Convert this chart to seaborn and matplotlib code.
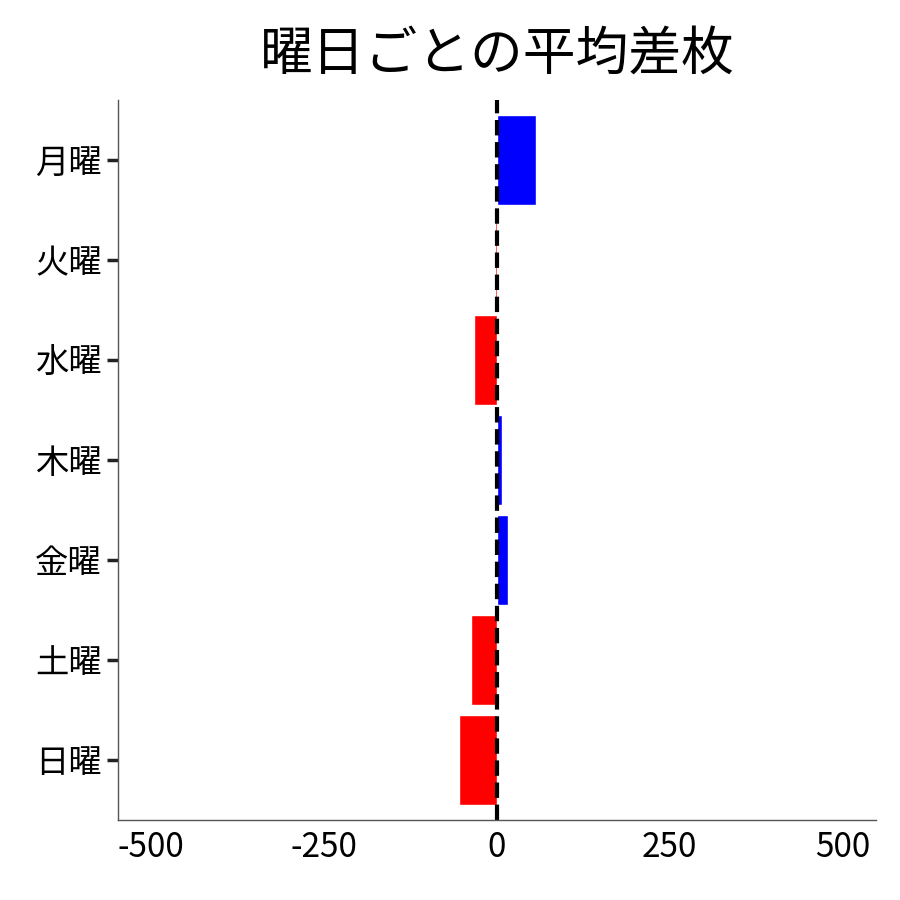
import matplotlib
matplotlib.use('Agg')
import matplotlib.pyplot as plt
import seaborn as sns
import pandas as pd

days = ['月曜', '火曜', '水曜', '木曜', '金曜', '土曜', '日曜']
diffs = [56, -3, -33, 7, 16, -38, -54]
colors = ['blue' if v > 0 else 'red' for v in diffs]

sns.set_style('white')
plt.rcParams['font.family'] = ['Noto Sans CJK JP', 'DejaVu Sans']
plt.rcParams['axes.unicode_minus'] = False

df = pd.DataFrame({'day': days, 'diff': diffs})

fig, ax = plt.subplots(figsize=(9, 9), dpi=100)
sns.barplot(data=df, x='diff', y='day', hue='day', palette=colors, legend=False,
            width=0.9, saturation=1, ax=ax)
ax.axvline(0, color='black', linestyle='--', linewidth=3)
ax.set_xlim(-548, 548)
ax.set_ylim(6.6, -0.6)
ax.set_xticks([-500, -250, 0, 250, 500])
ax.set_xlabel('')
ax.set_ylabel('')
ax.set_title('曜日ごとの平均差枚', fontsize=38, pad=22, color='black')
ax.tick_params(axis='both', labelsize=24, labelcolor='black')
ax.tick_params(axis='y', left=True, length=8, width=2.5, color='#222222')
sns.despine(ax=ax)
for s in ['left', 'bottom']:
    ax.spines[s].set_color('#555555')
    ax.spines[s].set_linewidth(1)
plt.subplots_adjust(left=0.131, right=0.973, top=0.889, bottom=0.089)
plt.savefig('out.png')
